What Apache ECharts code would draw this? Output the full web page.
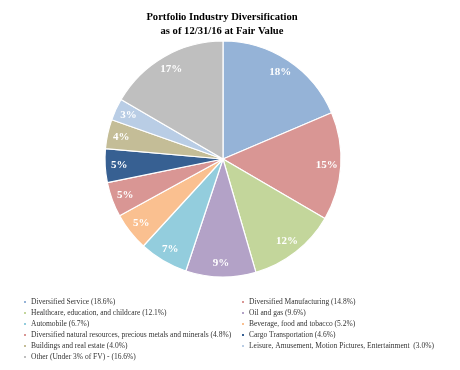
<!DOCTYPE html>
<html><head><meta charset="utf-8">
<script src="https://cdn.jsdelivr.net/npm/echarts@6/dist/echarts.min.js"></script>
<style>html,body{margin:0;padding:0;background:#fff}#c{width:460px;height:370px}</style>
</head><body><div id="c"></div>
<script>
var categories = ["Diversified Service","Diversified Manufacturing","Healthcare, education, and childcare","Oil and gas","Automobile","Beverage, food and tobacco","Diversified natural resources, precious metals and minerals","Cargo Transportation","Buildings and real estate","Leisure, Amusement, Motion Pictures, Entertainment","Other"];
var values = [18.6,14.8,12.1,9.6,6.7,5.2,4.8,4.6,4.0,3.0,16.6];
var sliceLabels = ["18%","15%","12%","9%","7%","5%","5%","5%","4%","3%","17%"];
var legendTexts = ["Diversified Service (18.6%)","Diversified Manufacturing (14.8%)","Healthcare, education, and childcare (12.1%)","Oil and gas (9.6%)","Automobile (6.7%)","Beverage, food and tobacco (5.2%)","Diversified natural resources, precious metals and minerals (4.8%)","Cargo Transportation (4.6%)","Buildings and real estate (4.0%)","Leisure, Amusement, Motion Pictures, Entertainment  (3.0%)","Other (Under 3% of FV) - (16.6%)"];
var colors = ["#95B3D7","#D99694","#C3D69B","#B3A2C7","#93CDDD","#FAC090","#D99694","#376092","#C4BD97","#B9CDE5","#BFBFBF"];

var chart = echarts.init(document.getElementById('c'), null, {renderer:'canvas'});
var data = categories.map(function(n,i){return {name:n, value:values[i], itemStyle:{color:colors[i]}};});
var labelData = categories.map(function(n,i){return {name:n, value:values[i], label:{formatter:sliceLabels[i]}};});
function legendFmt(name){ return legendTexts[categories.indexOf(name)]; }
var leftNames = categories.filter(function(_,i){return i%2===0;});
var rightNames = categories.filter(function(_,i){return i%2===1;});
var legendCommon = {
  orient:'vertical', icon:'rect', itemWidth:4, itemHeight:4, itemGap:3, padding:0,
  selectedMode:false, formatter:legendFmt,
  textStyle:{fontFamily:'Liberation Serif', fontSize:7.5, color:'#333', lineHeight:8, padding:[0,0,0,-1]}
};
chart.setOption({
  animation:false,
  title:{text:'Portfolio Industry Diversification\nas of 12/31/16 at Fair Value', left:217, top:5, textAlign:'center',
    textStyle:{fontFamily:'Liberation Serif', fontSize:10.6, fontWeight:'bold', color:'#000', lineHeight:14}},
  legend:[
    Object.assign({data:leftNames, left:22, top:298}, legendCommon),
    Object.assign({data:rightNames, left:240, top:298}, legendCommon)
  ],
  series:[
    {type:'pie', center:[223,159], radius:[0,118], startAngle:90, clockwise:true, silent:true,
     label:{show:false}, labelLine:{show:false},
     itemStyle:{borderColor:'#fff', borderWidth:1.2}, data:data},
    {type:'pie', center:[223,159], radius:[84,118], startAngle:90, clockwise:true, silent:true,
     itemStyle:{color:'rgba(0,0,0,0)', borderWidth:0},
     label:{show:true, position:'inside', fontFamily:'Liberation Serif', fontSize:11, fontWeight:'bold', color:'#fff'},
     labelLine:{show:false}, data:labelData}
  ]
});
</script></body></html>
